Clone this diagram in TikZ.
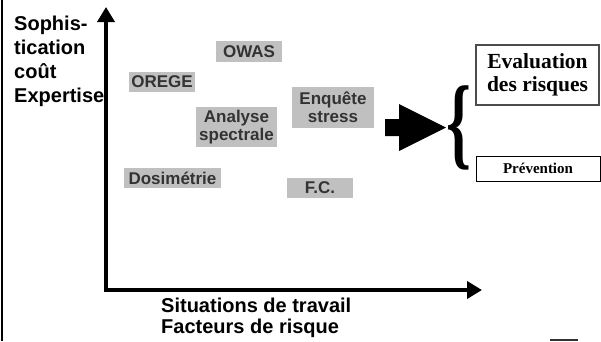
\documentclass[tikz,border=0pt]{standalone}
\usepackage{fontspec}
\usepackage{graphicx}
\setmainfont{Liberation Sans}
\newfontfamily\serifbold{Liberation Serif}
\usetikzlibrary{arrows.meta}
\definecolor{boxgray}{RGB}{192,192,192}
\definecolor{labelgray}{RGB}{51,51,51}
\begin{document}
\begin{tikzpicture}[x=1pt,y=-1pt,
	method/.style={fill=boxgray,text=labelgray,inner sep=0pt,align=center,
		font=\bfseries\fontsize{17}{18}\selectfont},
	result/.style={draw,inner sep=0pt,align=center},
	axistip/.tip={Triangle[length=15pt,width=17pt]}]
	\useasboundingbox (0,0) rectangle (601,341);
	\draw[line width=2pt] (2,0) -- (2,341);
	\coordinate (ytop) at (106,7);
	\coordinate (origin) at (106,290);
	\coordinate (xend) at (482,290);
	\draw[line width=4.5pt,line join=miter,axistip-axistip] (ytop) -- (origin) -- (xend);
	\node[anchor=north west,inner sep=0pt,align=left,font=\bfseries\fontsize{20}{24}\selectfont] (ylabel) at (14,15.4) {Sophis-\\tication\\coût\\Expertise};
	\node[anchor=north west,inner sep=0pt,align=left,font=\bfseries\fontsize{20}{21}\selectfont] (xlabel) at (161,297.4) {Situations de travail\\Facteurs de risque};
	\node[method,minimum width=66pt,minimum height=21pt] (owas) at (249,51.5) {OWAS};
	\node[method,minimum width=66pt,minimum height=20pt] (orege) at (162,82) {OREGE};
	\node[method,minimum width=81pt,minimum height=40pt] (spectre) at (236.5,127) {Analyse\\spectrale};
	\node[method,minimum width=97pt,minimum height=20pt] (dosi) at (172.5,178) {Dosimétrie};
	\node[method,minimum width=82pt,minimum height=41pt] (stress) at (333,107.5) {Enquête\\stress};
	\node[method,minimum width=66pt,minimum height=20pt] (fc) at (320,188) {F.C.};
	\fill (385,119) -- (399,119) -- (399,104) -- (446,127.5) -- (399,151) -- (399,136) -- (385,136) -- cycle;
	\node[inner sep=0pt,font=\serifbold\bfseries\fontsize{102}{102}\selectfont] (brace) at (459,127.5) {\scalebox{0.62}[1]{\{}};
	\node[result,draw=black!70,line width=1.2pt,minimum width=123pt,minimum height=60pt,
		font=\serifbold\bfseries\fontsize{21.5}{23}\selectfont] (evaluation) at (537.5,75) {Evaluation\\des risques};
	\node[result,line width=1pt,minimum width=124pt,minimum height=25pt,
		font=\serifbold\bfseries\fontsize{15}{17}\selectfont] (prevention) at (538,168.5) {Prévention};
	\draw[line width=2pt,black!80] (550,340) -- (578,340);
\end{tikzpicture}
\end{document}
